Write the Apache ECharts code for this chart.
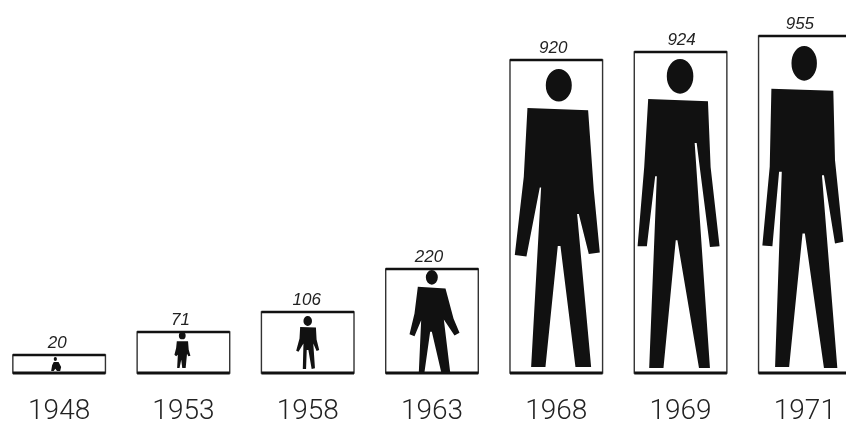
<!DOCTYPE html>
<html>
<head>
<meta charset="utf-8">
<script src="https://cdn.jsdelivr.net/npm/echarts@6/dist/echarts.min.js"></script>
<style>
html, body { margin: 0; padding: 0; background: #fff; }
#main { width: 846px; height: 424px; }
</style>
</head>
<body>
<div id="main"></div>
<script>
var years = ['1948', '1953', '1958', '1963', '1968', '1969', '1971'];
var totals = [20, 71, 106, 220, 920, 924, 955];
// drawn height of each box, the picture is not to scale with the totals
var boxHeights = [18, 41, 61, 104, 313, 321, 337];

function head(x, y, rx, ry) {
    return 'M' + (x - rx) + ' ' + y + ' A' + rx + ' ' + ry + ' 0 1 1 ' + (x + rx) + ' ' + y +
        ' A' + rx + ' ' + ry + ' 0 1 1 ' + (x - rx) + ' ' + y + ' Z ';
}

function outline(points) {
    return 'M' + points.join(' L') + ' Z';
}

// silhouettes traced by eye, each one is stretched over its top/foot/width
var figures = [
    { top: 16, foot: 2, width: 10, shift: -3, labelShift: -2,
        path: head(165, 326, 5, 6) + outline(['160 335', '175 335', '183 350', '180 362', '170 362', '165 355', '160 362', '152 362', '155 345']) },
    { top: 41, foot: 5, width: 16, shift: -1, labelShift: -3,
        path: head(548, 258, 10, 11) + outline(['532 275', '565 275', '567 300', '572 318', '566 320', '562 312', '558 355', '548 355', '545 330', '540 355', '533 355', '535 315', '530 320', '525 315', '530 295']) },
    { top: 57, foot: 4, width: 23, shift: 0, labelShift: -1,
        path: head(923, 212, 13, 15) + outline(['900 230', '948 232', '950 268', '958 300', '950 303', '940 280', '945 355', '935 357', '925 300', '920 300', '918 357', '908 357', '910 280', '895 305', '888 302', '898 265']) },
    { top: 103, foot: 1, width: 50, shift: 2.5, labelShift: -3,
        path: head(157, 742, 18, 22) + outline(['115 770', '198 775', '222 865', '240 908', '225 916', '193 868', '212 1025', '185 1025', '157 905', '152 905', '135 1025', '118 1025', '125 870', '105 918', '90 912', '105 850']) },
    { top: 304, foot: 6, width: 85, shift: 1, labelShift: -3,
        path: head(535, 165, 39, 49) + outline(['441 233', '623 240', '640 480', '658 668', '625 672', '595 552', '590 552', '632 1012', '585 1012', '540 648', '532 648', '495 1012', '452 1012', '482 472', '478 472', '438 680', '403 675', '430 440']) },
    { top: 314, foot: 5, width: 82, shift: -2, labelShift: 1,
        path: head(178, 228, 40, 52) + outline(['82 296', '262 303', '270 500', '297 738', '268 740', '228 428', '222 428', '268 1103', '235 1103', '170 720', '165 720', '128 1103', '85 1103', '108 528', '103 528', '78 738', '50 738', '70 500']) },
    { top: 327, foot: 5, width: 81, shift: -2, labelShift: -5,
        path: head(553, 190, 38, 52) + outline(['455 266', '640 272', '645 480', '670 725', '645 730', '612 525', '606 525', '652 1103', '612 1103', '555 700', '548 700', '508 1100', '466 1100', '486 515', '478 515', '458 738', '428 736', '450 500']) }
];

function renderBox(params, api) {
    var fig = figures[params.dataIndex];
    var cat = api.value(0);
    var base = api.coord([cat, 0]);
    var top = api.coord([cat, api.value(1)]);
    var half = api.size([1, 0])[0] * 0.745 / 2;
    var figTop = api.coord([cat, fig.top])[1];
    var figFoot = api.coord([cat, fig.foot])[1];
    var cx = base[0];

    return {
        type: 'group',
        children: [
            {
                type: 'rect',
                shape: { x: cx - half, y: top[1], width: half * 2, height: base[1] - top[1] },
                style: { fill: 'none', stroke: '#333', lineWidth: 1.4 }
            },
            {
                type: 'line',
                shape: { x1: cx - half, y1: top[1], x2: cx + half, y2: top[1] },
                style: { stroke: '#111', lineWidth: 2.4 }
            },
            {
                type: 'line',
                shape: { x1: cx - half, y1: base[1], x2: cx + half, y2: base[1] },
                style: { stroke: '#111', lineWidth: 2.8 }
            },
            {
                type: 'path',
                shape: {
                    pathData: fig.path,
                    layout: 'cover',
                    x: cx + fig.shift - fig.width / 2,
                    y: figTop,
                    width: fig.width,
                    height: figFoot - figTop
                },
                style: { fill: '#111' }
            },
            {
                type: 'text',
                style: {
                    text: String(totals[params.dataIndex]),
                    x: cx + fig.labelShift,
                    y: top[1] - 12,
                    align: 'center',
                    verticalAlign: 'middle',
                    font: 'italic 17px "Liberation Sans"',
                    fill: '#222'
                }
            }
        ]
    };
}

var chart = echarts.init(document.getElementById('main'));
chart.setOption({
    animation: false,
    backgroundColor: '#fff',
    grid: { left: -3, right: -21, top: 0, bottom: 51, outerBoundsMode: 'none' },
    xAxis: {
        type: 'category',
        data: years,
        axisLine: { show: false },
        axisTick: { show: false },
        axisLabel: {
            margin: 25,
            fontFamily: 'Roboto',
            fontWeight: 300,
            fontSize: 28,
            color: '#222',
            interval: 0
        }
    },
    yAxis: { type: 'value', min: 0, max: 373, show: false },
    series: [{
        type: 'custom',
        renderItem: renderBox,
        encode: { x: 0, y: 1 },
        data: years.map(function (y, i) {
            return [i, boxHeights[i]];
        })
    }]
});
</script>
</body>
</html>
